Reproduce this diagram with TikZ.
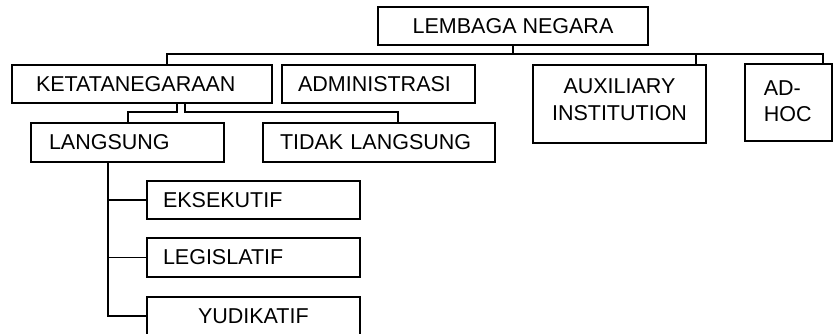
\documentclass[tikz,border=0pt]{standalone}
\usepackage{fontspec}
\setmainfont{Liberation Sans}
\begin{document}
\begin{tikzpicture}[x=1pt,y=-1pt,
  line width=1.5pt,
  fnt/.style={font=\fontsize{21.5}{26.7}\selectfont},
  box/.style={draw, line width=1.5pt, inner sep=0pt, minimum height=38pt, fnt},
  txt/.style={inner sep=0pt, fnt},
  link/.style={line width=1.5pt},
  thin/.style={line width=1.3pt}]
\useasboundingbox (0,0) rectangle (833,333);
% boxes
\node[box, minimum width=270pt] (lembaga) at (513,26) {LEMBAGA NEGARA};
\node[box, minimum width=260pt, text width=212pt, align=left] (keta) at (142,84) {KETATANEGARAAN};
\node[box, minimum width=193pt, text width=161pt, align=left] (admin) at (378.5,84) {ADMINISTRASI};
\node[box, minimum width=173pt, minimum height=78pt] (aux) at (619.5,104) {};
\node[txt, anchor=base] (auxa) at (619.5,93.3) {AUXILIARY};
\node[txt, anchor=base] (auxb) at (619.5,120) {INSTITUTION};
\node[box, minimum width=87pt, minimum height=77pt] (adhoc) at (788.5,102.5) {};
\node[txt, anchor=base west] (adhoca) at (763,95) {AD-};
\node[txt, anchor=base west] (adhocb) at (763,121.5) {HOC};
\node[box, minimum width=193pt, minimum height=39pt, text width=157pt, align=left] (langsung) at (127.5,142.5) {LANGSUNG};
\node[box, minimum width=232pt, minimum height=39pt, text width=198pt, align=left] (tidak) at (379,142.5) {TIDAK LANGSUNG};
\node[box, minimum width=213pt, text width=181pt, align=left] (eks) at (253.5,200) {EKSEKUTIF};
\node[box, minimum width=213pt, minimum height=39pt, text width=181pt, align=left] (leg) at (253.5,257.5) {LEGISLATIF};
\node[box, minimum width=213pt, text width=111pt, align=left] (yud) at (253.5,316) {YUDIKATIF};
% top bus
\coordinate (busL) at (167,54);
\coordinate (busR) at (823,54);
\coordinate (busA) at (696,54);
\draw[link] (lembaga.south) -- (lembaga.south |- busL);
\draw[link] (keta.north -| busL) -- (busL) -- (busR) -- (adhoc.north -| busR);
\draw[link] (busA) -- (aux.north -| busA);
% ketatanegaraan children
\coordinate (k1) at (177,112);
\coordinate (k2) at (185,112);
\coordinate (l1) at (128,112);
\coordinate (t1) at (398,112);
\draw[link] (keta.south -| k1) -- (k1) -- (l1) -- (langsung.north -| l1);
\draw[link] (keta.south -| k2) -- (k2) -- (t1) -- (tidak.north -| t1);
% langsung children
\coordinate (trunk) at (108,0);
\draw[thin] (langsung.south -| trunk) -- (yud.west -| trunk) -- (yud.west);
\draw[thin] (eks.west -| trunk) -- (eks.west);
\draw[thin] (leg.west -| trunk) -- (leg.west);
\end{tikzpicture}
\end{document}
